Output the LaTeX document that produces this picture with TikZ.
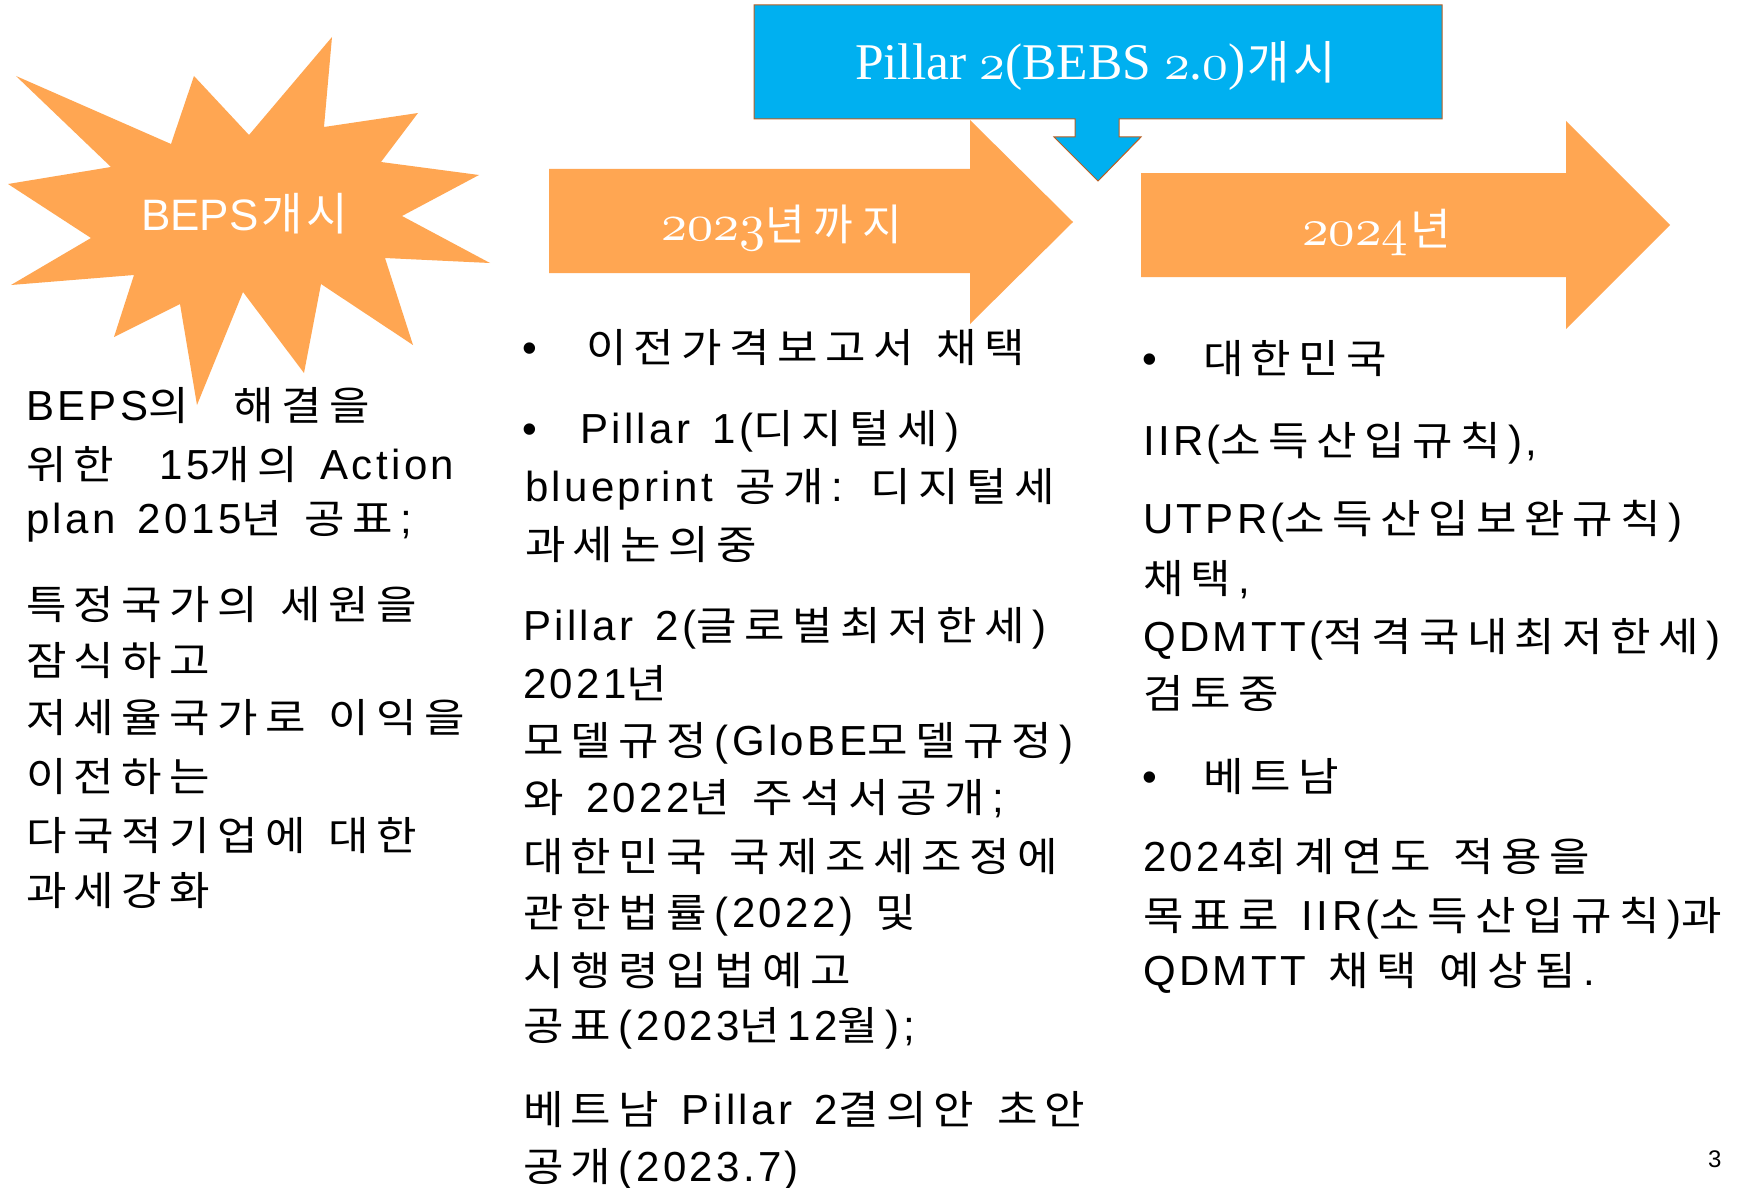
\documentclass[tikz,border=0pt]{standalone}
\usepackage{fontspec}
\newfontfamily\latB{Liberation Sans}[Scale=1.05,LetterSpace=8,WordSpace=1.5]
\newfontfamily\krB{Noto Sans CJK KR}[FakeStretch=1.1]
\newfontfamily\krL{Noto Sans CJK KR}
\newfontfamily\arialL{Liberation Sans}
\newfontfamily\serL{Liberation Serif}
\DeclareFontFamily{OML}{osf}{}
\DeclareFontShape{OML}{osf}{m}{it}{<->cmmi10}{}
\newcommand\osn[1]{{\usefont{OML}{osf}{m}{it}#1}}
\definecolor{ora}{RGB}{255,166,82}
\definecolor{skyb}{RGB}{0,176,240}
\definecolor{edgeb}{RGB}{185,95,35}
% automatic switch between Latin and Hangul fonts in body text
\XeTeXinterchartokenstate=0
\newXeTeXintercharclass\krclass
\count255="AC00
\loop\ifnum\count255<"D7A4 \XeTeXcharclass\count255=\krclass \advance\count255 by 1 \repeat
\count255=33
\loop\ifnum\count255<127 \XeTeXcharclass\count255=0 \advance\count255 by 1 \repeat
\XeTeXcharclass"2022=0
\newdimen\krgap \krgap=7.5pt
\XeTeXinterchartoks \krclass \krclass={\kern\krgap}
\XeTeXinterchartoks 0 \krclass={\krB}
\XeTeXinterchartoks 4095 \krclass={\krB}
\XeTeXinterchartoks \krclass 0={\kern\krgap\latB}
\XeTeXinterchartoks \krclass 4095={\latB}
\XeTeXinterchartoks 4095 0={\latB}
\newcommand\mybody{\fontsize{40}{48}\selectfont\latB\XeTeXinterchartokenstate=1 }
\tikzset{
  bt/.style={anchor=base west,inner sep=0pt,outer sep=0pt,font=\mybody,text=black},
  wl/.style={anchor=base west,inner sep=0pt,outer sep=0pt,text=white},
  orafill/.style={fill=ora,draw=none},
}
\begin{document}
\begin{tikzpicture}[x=1pt,y=-1pt]
\useasboundingbox (0,0) rectangle (1743,1188);
\fill[white] (0,0) rectangle (1743,1188);
% starburst
\fill[orafill] (332,37) -- (324,127) -- (418,113) -- (381,162) -- (479,175) -- (402,216)
  -- (490,263) -- (385,258) -- (413,345) -- (321,284) -- (304,373) -- (243,292)
  -- (197,405) -- (180,304) -- (114,337) -- (134,275) -- (11,285) -- (91,238)
  -- (8,184) -- (111,167) -- (16,76) -- (171,144) -- (194,76) -- (249,135) -- cycle;
% orange arrows
\fill[orafill] (549,169) -- (970,169) -- (970,120) -- (1073,222) -- (970,324) -- (970,273) -- (549,273) -- cycle;
\fill[orafill] (1141,173) -- (1566,173) -- (1566,121) -- (1670,225) -- (1566,329) -- (1566,277) -- (1141,277) -- cycle;
% blue callout
\filldraw[fill=skyb,draw=edgeb,line width=1pt] (754,5) -- (1442,5) -- (1442,119) -- (1119,119) -- (1119,137)
  -- (1141,137) -- (1098,181) -- (1054,137) -- (1075,137) -- (1075,119) -- (754,119) -- cycle;
% labels on shapes
\node[wl] (bepsT) at (141,230) {{\arialL\fontsize{44}{50}\selectfont BEPS}\kern3pt{\krL\fontsize{45}{50}\selectfont 개\kern4pt 시}};
\node[wl] (p2T) at (855,80) {{\fontsize{51.5}{58}\selectfont\serL Pillar \osn{2}(BEBS \osn{2}.\osn{0})}\kern2pt{\krL\fontsize{46}{54}\selectfont 개\kern4pt 시}};
\node[wl] (y23T) at (661,240) {{\fontsize{52}{60}\selectfont\osn{2023}}{\krL\fontsize{43}{50}\selectfont 년\kern9pt 까\kern9pt 지}};
\node[wl] (y24T) at (1302,245) {{\fontsize{53}{60}\selectfont\osn{2024}}\kern2pt{\krL\fontsize{44}{50}\selectfont 년}};
% left column
\node[bt] (l1) at (26,420) {BEPS의~~해결을};
\node[bt] (l2) at (26,479) {위한~~15개의 Action};
\node[bt] (l3) at (26,533) {plan 2015년 공표;};
\node[bt] (l4) at (26,619) {특정국가의 세원을};
\node[bt] (l5) at (26,675) {잠식하고};
\node[bt] (l6) at (26,732) {저세율국가로 이익을};
\node[bt] (l7) at (26,791) {이전하는};
\node[bt] (l8) at (26,850) {다국적기업에 대한};
\node[bt] (l9) at (26,905) {과세강화};
% middle column
\node[bt] (mb1) at (522,362) {•};
\node[bt] (m1) at (586,362) {이전가격보고서 채택};
\node[bt] (mb2) at (522,443) {•};
\node[bt] (m2) at (580,443) {Pillar 1(디지털세)};
\node[bt] (m3) at (525,501) {blueprint 공개: 디지털세};
\node[bt] (m4) at (525,559) {과세논의중};
\node[bt] (m5) at (523,640) {Pillar 2(글로벌최저한세)};
\node[bt] (m6) at (523,698) {2021년};
\node[bt] (m7) at (523,755) {모델규정(GloBE모델규정)};
\node[bt] (m8) at (523,812) {와 2022년 주석서공개;};
\node[bt] (m9) at (523,871) {대한민국 국제조세조정에};
\node[bt] (m10) at (523,927) {관한법률(2022) 및};
\node[bt] (m11) at (523,985) {시행령입법예고};
\node[bt] (m12) at (523,1040) {공표(2023년12월);};
\node[bt] (m13) at (523,1124) {베트남 Pillar 2결의안 초안};
\node[bt] (m14) at (523,1181) {공개(2023.7)};
% right column
\node[bt] (rb1) at (1142,373) {•};
\node[bt] (r1) at (1203,373) {대한민국};
\node[bt] (r2) at (1143,455) {IIR(소득산입규칙),};
\node[bt] (r3) at (1143,533) {UTPR(소득산입보완규칙)};
\node[bt] (r4) at (1143,593) {채택,};
\node[bt] (r5) at (1143,651) {QDMTT(적격국내최저한세)};
\node[bt] (r6) at (1143,708) {검토중};
\node[bt] (rb2) at (1142,791) {•};
\node[bt] (r7) at (1203,791) {베트남};
\node[bt] (r8) at (1143,871) {2024회계연도 적용을};
\node[bt] (r9) at (1143,930) {목표로 IIR(소득산입규칙)과};
\node[bt] (r10) at (1143,985) {QDMTT 채택 예상됨.};
% page number
\node[anchor=base west,inner sep=0pt,font=\arialL\fontsize{24}{28}\selectfont] (pg) at (1708,1167) {3};
\end{tikzpicture}
\end{document}
